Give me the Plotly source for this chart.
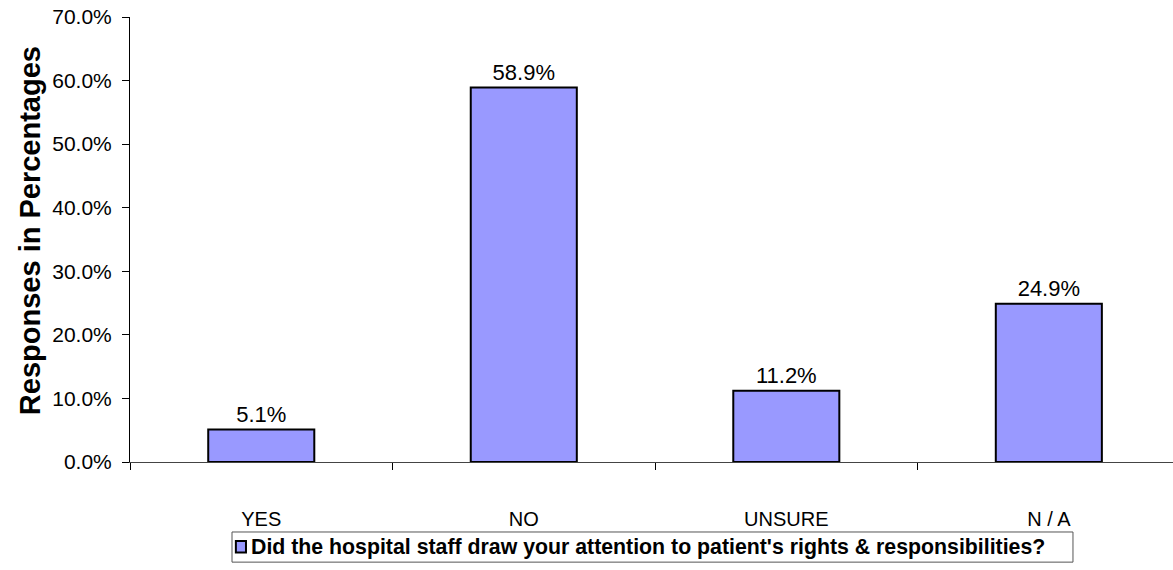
import plotly.graph_objects as go

categories = ["YES", "NO", "UNSURE", "N / A"]
responses_pct = [5.1, 58.9, 11.2, 24.9]
series_name = "Did the hospital staff draw your attention to patient's rights & responsibilities?"
y_axis_title = "Responses in Percentages"
y_tick_values = [0, 10, 20, 30, 40, 50, 60, 70]
y_tick_labels = ["0.0%", "10.0%", "20.0%", "30.0%", "40.0%", "50.0%", "60.0%", "70.0%"]

FONT = "Liberation Sans, Arial, sans-serif"
BAR_FILL = "#9999FF"

fig = go.Figure()
fig.add_trace(go.Bar(
    x=categories,
    y=responses_pct,
    name=series_name,
    width=0.404,
    marker=dict(color=BAR_FILL, line=dict(color="black", width=2)),
    text=[f"{v:.1f}%" for v in responses_pct],
    textposition="outside",
    textfont=dict(family=FONT, size=22, color="black"),
    cliponaxis=False,
    showlegend=False,
))

# Rotated y-axis title
fig.add_annotation(xref="paper", yref="paper", x=-0.0959, y=0.521,
                   xanchor="center", yanchor="middle", showarrow=False,
                   textangle=-90, text=f"<b>{y_axis_title}</b>",
                   font=dict(family=FONT, size=29, color="black"))

# Legend box below the axis, drawn in paper coordinates
fig.add_shape(type="rect", xref="paper", yref="paper",
              x0=0.0978, x1=0.9041, y0=-0.225, y1=-0.1573,
              line=dict(color="#555555", width=1), fillcolor="white", layer="above")
fig.add_shape(type="rect", xref="paper", yref="paper",
              x0=0.1015, x1=0.1112, y0=-0.2036, y1=-0.1775,
              line=dict(color="black", width=2), fillcolor=BAR_FILL, layer="above")
fig.add_annotation(xref="paper", yref="paper", x=0.1138, y=-0.1915,
                   xanchor="left", yanchor="middle", showarrow=False,
                   text=f"<b>{series_name}</b>",
                   font=dict(family=FONT, size=21.3, color="black"))

fig.update_layout(
    width=1173,
    height=570,
    margin=dict(l=130, r=0, t=17, b=108, autoexpand=False),
    paper_bgcolor="white",
    plot_bgcolor="white",
    font=dict(family=FONT, size=22, color="black"),
    bargap=0.596,
    showlegend=False,
    xaxis=dict(
        type="category",
        range=[-0.5, 3.473],
        showline=True,
        linecolor="#444444",
        linewidth=1,
        ticks="outside",
        tickson="boundaries",
        ticklen=7,
        tickcolor="black",
        showgrid=False,
        tickfont=dict(family=FONT, size=20, color="black"),
        ticklabelstandoff=39,
        fixedrange=True,
    ),
    yaxis=dict(
        range=[0, 70],
        tickvals=y_tick_values,
        ticktext=y_tick_labels,
        showline=True,
        linecolor="black",
        linewidth=1,
        ticks="outside",
        ticklen=7,
        tickcolor="black",
        showgrid=False,
        zeroline=False,
        tickfont=dict(family=FONT, size=21, color="black"),
        ticklabelstandoff=6,
        automargin=False,
        fixedrange=True,
    ),
)

fig.write_html("out.html")
